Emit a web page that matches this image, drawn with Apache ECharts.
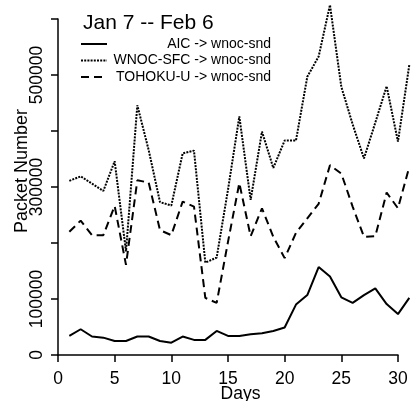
<!DOCTYPE html>
<html>
<head>
<meta charset="utf-8">
<style>html,body{margin:0;padding:0;background:#fff;}#c{width:411px;height:401px;}</style>
<script src="https://cdn.jsdelivr.net/npm/echarts@6/dist/echarts.min.js"></script>
</head>
<body>
<div id="c"></div>
<script>
var days = [1,2,3,4,5,6,7,8,9,10,11,12,13,14,15,16,17,18,19,20,21,22,23,24,25,26,27,28,29,30,31];
var aic = [34000,46000,33000,31000,25000,25000,33000,33000,25000,22000,33000,27000,27000,43000,34000,34000,37000,39000,43000,49000,90000,107000,157000,140000,103000,93000,107000,119000,91000,73000,102000];
var wnoc = [311000,319000,306000,293000,346000,185000,446000,366000,273000,267000,360000,365000,165000,174000,295000,426000,277000,399000,334000,383000,383000,497000,533000,625000,479000,412000,351000,415000,480000,381000,518000];
var tohoku = [220000,240000,214000,214000,266000,161000,312000,308000,223000,214000,274000,265000,102000,93000,202000,307000,212000,262000,211000,173000,218000,244000,270000,339000,324000,265000,211000,212000,290000,262000,336000];
var seriesNames = ['AIC -> wnoc-snd','WNOC-SFC -> wnoc-snd','TOHOKU-U -> wnoc-snd'];
var xTicks = [0,5,10,15,20,25,30];
var yLabelsShown = [0,100000,300000,500000];
var FF = '"Liberation Sans", Arial, Helvetica, sans-serif';

function pairs(v){ return days.map(function(d,i){ return [d, v[i]]; }); }

var chart = echarts.init(document.getElementById('c'), null, {renderer:'canvas'});
chart.setOption({
  animation:false,
  backgroundColor:'#fff',
  title:{text:'Jan 7 -- Feb 6', left:78, top:8,
    textStyle:{fontFamily:FF, fontSize:21, fontWeight:'normal', color:'#000'}},
  legend:{
    orient:'vertical', left:75, top:32, itemWidth:26, itemHeight:12, itemGap:2.5,
    data:seriesNames,
    itemStyle:{opacity:0, color:'rgba(0,0,0,0)', borderWidth:0},
    formatter:function(n){ return '{r|' + n + '}'; },
    textStyle:{fontFamily:FF, fontSize:14, color:'#000',
      rich:{r:{width:159, align:'right', fontFamily:FF, fontSize:14, color:'#000'}}}
  },
  grid:[
    {left:58, right:0, top:19, bottom:46, containLabel:false, outerBoundsMode:'none'},
    {left:58, right:13, top:19, bottom:46, containLabel:false, outerBoundsMode:'none'}
  ],
  xAxis:[{
    type:'value', gridIndex:0, min:0, max:31.15, offset:2,
    name:'Days', nameLocation:'middle', nameGap:28, nameMoveOverlap:false,
    nameTextStyle:{fontFamily:FF, fontSize:17.5, color:'#000', padding:[0,0,0,12]},
    axisLine:{show:false},
    axisTick:{show:true, length:7, customValues:xTicks, lineStyle:{color:'#000', width:1.5}},
    axisLabel:{fontFamily:FF, fontSize:17.5, color:'#000', margin:13, customValues:xTicks},
    splitLine:{show:false}
  },{
    type:'value', gridIndex:1, min:0, max:30, offset:2,
    axisLine:{show:true, lineStyle:{color:'#000', width:1.5}},
    axisTick:{show:false}, axisLabel:{show:false}, splitLine:{show:false}
  }],
  yAxis:[{
    type:'value', gridIndex:0, min:0, max:600000, interval:100000, offset:3,
    name:'Packet Number', nameLocation:'middle', nameGap:24, nameMoveOverlap:false,
    nameTextStyle:{fontFamily:FF, fontSize:18, color:'#000', padding:[0,0,0,32]},
    axisLine:{show:true, lineStyle:{color:'#000', width:1.5}},
    axisTick:{show:true, length:7, lineStyle:{color:'#000', width:1.5}},
    axisLabel:{fontFamily:FF, fontSize:17.5, color:'#000', rotate:90, margin:9,
      formatter:function(v){ return yLabelsShown.indexOf(v) >= 0 ? String(v) : ''; }},
    splitLine:{show:false}
  },{
    type:'value', gridIndex:1, min:0, max:600000, show:false
  }],
  series:[
    {name:seriesNames[0], type:'line', xAxisIndex:0, yAxisIndex:0, data:pairs(aic), symbol:'none', clip:false,
      lineStyle:{color:'#000', width:2, type:'solid'}, itemStyle:{color:'#000'}},
    {name:seriesNames[1], type:'line', xAxisIndex:0, yAxisIndex:0, data:pairs(wnoc), symbol:'none', clip:false,
      lineStyle:{color:'#000', width:2, type:[2,1.2]}, itemStyle:{color:'#000'}},
    {name:seriesNames[2], type:'line', xAxisIndex:0, yAxisIndex:0, data:pairs(tohoku), symbol:'none', clip:false,
      lineStyle:{color:'#000', width:2, type:[8,5]}, itemStyle:{color:'#000'}}
  ]
});
</script>
</body>
</html>
